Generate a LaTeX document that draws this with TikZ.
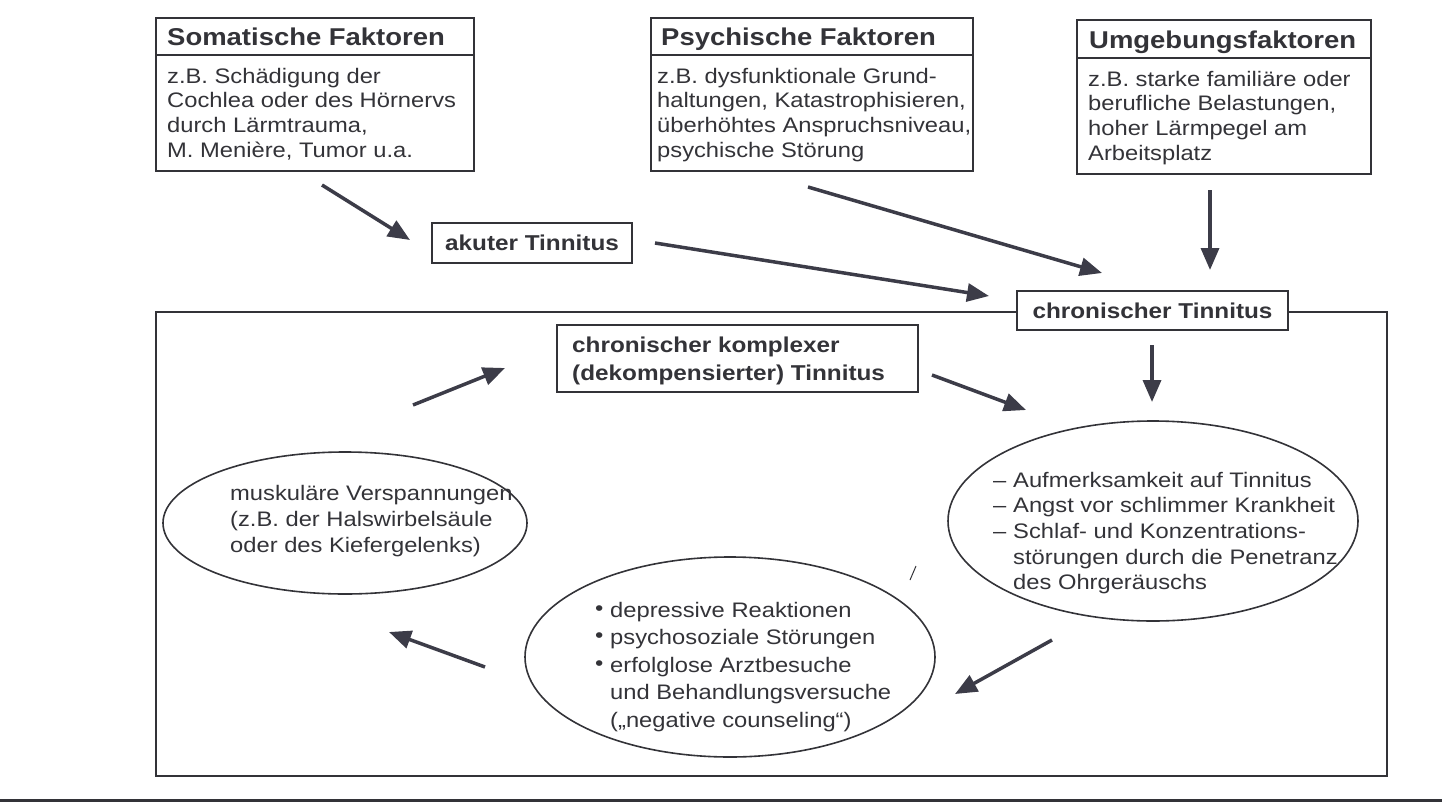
\documentclass[tikz,border=0pt]{standalone}
\usepackage{fontspec}
\setmainfont{Liberation Sans}[FakeStretch=1.13]
\usetikzlibrary{arrows.meta,shapes.geometric}
\definecolor{ink}{HTML}{333338}
\definecolor{arrowc}{HTML}{3C3C48}
\newcommand{\rowsL}[1]{\begin{tabular}[t]{@{}l@{}}#1\end{tabular}}
\begin{document}
\begin{tikzpicture}[x=1pt,y=-1pt,
  boxn/.style={draw=ink, line width=1.6pt, rectangle, inner sep=0pt, fill=white},
  ttl/.style={anchor=base west, inner sep=0pt, text=ink, font=\fontsize{24.3}{28}\selectfont\bfseries},
  bodytxt/.style={anchor=base west, inner sep=0pt, text=ink, font=\fontsize{21}{24.7}\selectfont},
  boldtxt/.style={inner sep=0pt, text=ink, font=\fontsize{21.5}{28}\selectfont\bfseries},
  ell/.style={draw=ink, line width=1.6pt, ellipse, inner sep=0pt},
  arr/.style={draw=arrowc, line width=3.5pt, -{Triangle[length=22pt,width=18pt]}},
  divl/.style={draw=ink, line width=1.6pt}
]
\useasboundingbox (0,0) rectangle (1442,803);

% ---- top factor boxes
\node[boxn, anchor=north west, minimum width=318pt, minimum height=153pt] (soma) at (155,17) {};
\draw[divl] (soma.west |- 0,55) -- (soma.east |- 0,55);
\node[ttl] (somaT) at (167,45) {Somatische Faktoren};
\node[bodytxt] (somaB) at (167,83) {\rowsL{z.B. Schädigung der\\Cochlea oder des Hörnervs\\durch Lärmtrauma,\\M. Menière, Tumor u.a.}};

\node[boxn, anchor=north west, minimum width=322pt, minimum height=153pt] (psych) at (650,17) {};
\draw[divl] (psych.west |- 0,55) -- (psych.east |- 0,55);
\node[ttl] (psychT) at (661,45) {Psychische Faktoren};
\node[bodytxt] (psychB) at (657,83) {\rowsL{z.B. dysfunktionale Grund-\\haltungen, Katastrophisieren,\\überhöhtes Anspruchsniveau,\\psychische Störung}};

\node[boxn, anchor=north west, minimum width=294pt, minimum height=154pt] (umg) at (1076,19) {};
\draw[divl] (umg.west |- 0,58) -- (umg.east |- 0,58);
\node[ttl] (umgT) at (1089,48) {Umgebungsfaktoren};
\node[bodytxt] (umgB) at (1088,86) {\rowsL{z.B. starke familiäre oder\\berufliche Belastungen,\\hoher Lärmpegel am\\Arbeitsplatz}};

% ---- acute tinnitus
\node[boxn, boldtxt, minimum width=200pt, minimum height=40pt] (akut) at (532,243) {akuter Tinnitus};

% ---- frame and chronic tinnitus
\node[draw=ink, line width=1.6pt, rectangle, inner sep=0pt, anchor=north west, minimum width=1231pt, minimum height=464pt] (frame) at (155,311) {};
\node[boxn, boldtxt, minimum width=271pt, minimum height=39pt] (chron) at (1152.5,310.5) {chronischer Tinnitus};

% ---- complex tinnitus
\node[boxn, minimum width=361pt, minimum height=67pt] (kompl) at (737.5,358.5) {};
\node[boldtxt, anchor=base west] (komplT) at (572,352) {\rowsL{chronischer komplexer\\(dekompensierter) Tinnitus}};

% ---- ellipses
\node[ell, minimum width=410pt, minimum height=200pt] (rell) at (1153,521) {};
\node[bodytxt, font=\fontsize{21}{25.7}\selectfont] (rellT) at (993,487)
  {\begin{tabular}[t]{@{}p{20pt}@{}l@{}}
   – & Aufmerksamkeit auf Tinnitus\\
   – & Angst vor schlimmer Krankheit\\
   – & Schlaf- und Konzentrations-\\
     & störungen durch die Penetranz\\
     & des Ohrgeräuschs
   \end{tabular}};

\node[ell, minimum width=410pt, minimum height=200pt] (bell) at (730,657) {};
\node[bodytxt, font=\fontsize{21}{27.5}\selectfont] (bellT) at (595,617)
  {\begin{tabular}[t]{@{}p{15pt}@{}l@{}}
   \raisebox{2pt}{\textbullet} & depressive Reaktionen\\
   \raisebox{2pt}{\textbullet} & psychosoziale Störungen\\
   \raisebox{2pt}{\textbullet} & erfolglose Arztbesuche\\
     & und Behandlungsversuche\\
     & („negative counseling“)
   \end{tabular}};

\node[ell, minimum width=364pt, minimum height=142pt] (lell) at (345,523) {};
\node[bodytxt, font=\fontsize{21}{26}\selectfont] (lellT) at (230,500)
  {\rowsL{muskuläre Verspannungen\\(z.B. der Halswirbelsäule\\oder des Kiefergelenks)}};

% ---- arrow end points
\coordinate (a1s) at (322,185);  \coordinate (a1e) at (410,240);
\coordinate (a2s) at (655,243);  \coordinate (a2e) at (989,296);
\coordinate (a3s) at (808,187);  \coordinate (a3e) at (1102,273);
\coordinate (a4s) at (1210,190); \coordinate (a4e) at (1210,270);
\coordinate (a5s) at (1152,345); \coordinate (a5e) at (1152,402);
\coordinate (a6s) at (932,375);  \coordinate (a6e) at (1026,410);
\coordinate (a7s) at (413,405);  \coordinate (a7e) at (505,368);
\coordinate (a8s) at (1052,640); \coordinate (a8e) at (955,694);
\coordinate (a9s) at (485,667);  \coordinate (a9e) at (389,632);

\draw[arr] (a1s) -- (a1e);
\draw[arr] (a2s) -- (a2e);
\draw[arr] (a3s) -- (a3e);
\draw[arr] (a4s) -- (a4e);
\draw[arr] (a5s) -- (a5e);
\draw[arr] (a6s) -- (a6e);
\draw[arr] (a7s) -- (a7e);
\draw[arr] (a8s) -- (a8e);
\draw[arr] (a9s) -- (a9e);

% ---- stray mark and bottom rule
\draw[ink, line width=1pt] (910,580) -- (916,566);
\draw[ink, line width=3pt] (0,800) -- (1442,800);
\end{tikzpicture}
\end{document}
